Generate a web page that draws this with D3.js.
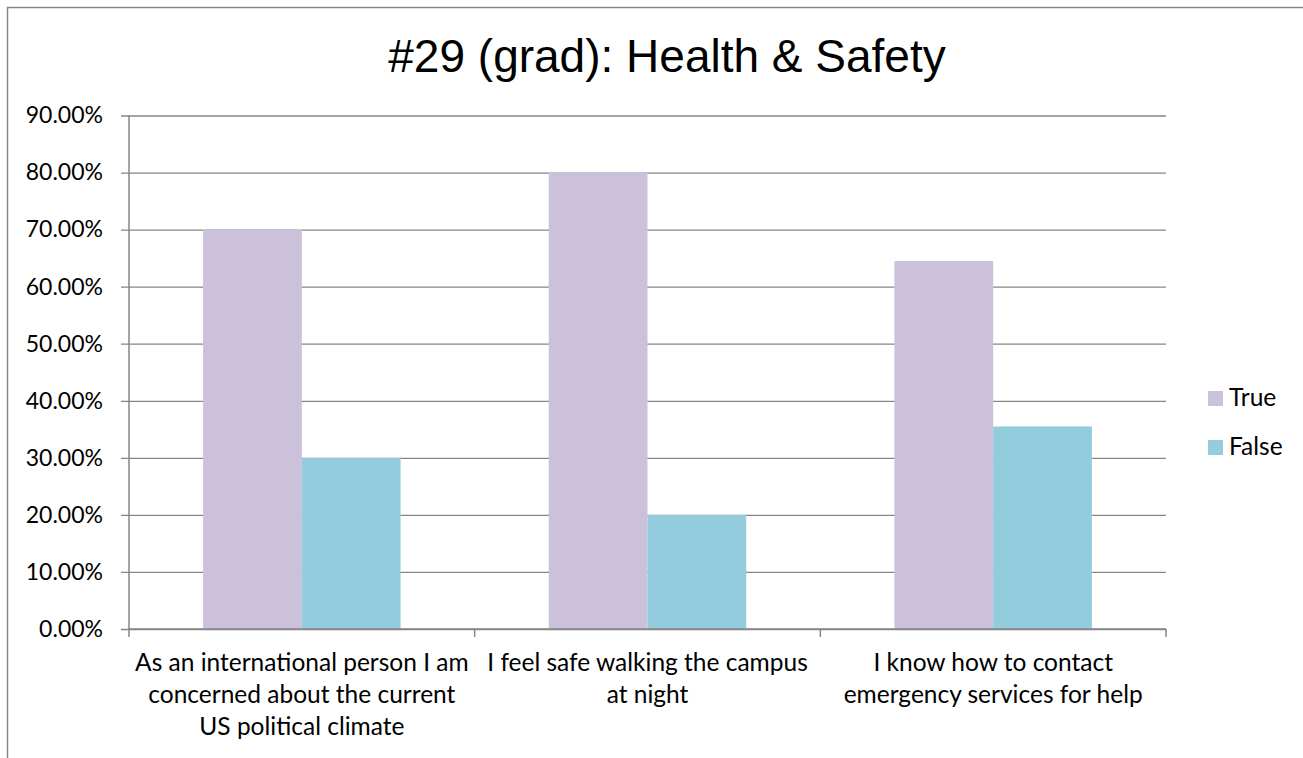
<!DOCTYPE html>
<html>
<head>
<meta charset="utf-8">
<script src="https://cdn.jsdelivr.net/npm/d3@7"></script>
<style>
  body { margin: 0; background: #fff; }
  svg { display: block; }
</style>
</head>
<body>
<svg id="chart"></svg>
<script>
// donnees
const categories = [
  ["As an international person I am", "concerned about the current", "US political climate"],
  ["I feel safe walking the campus", "at night"],
  ["I know how to contact", "emergency services for help"]
];
const series = ["True", "False"];
const trueValues = [0.70, 0.80, 0.645];
const falseValues = [0.30, 0.20, 0.355];
const yTicks = [0, 0.1, 0.2, 0.3, 0.4, 0.5, 0.6, 0.7, 0.8, 0.9];
const colors = ["#ccc1da", "#93cddd"];

const svgWidth = 1303, svgHeight = 758;
const margin = { top: 115.5, right: 137, bottom: 129, left: 129 };
const width = svgWidth - margin.left - margin.right;
const height = svgHeight - margin.top - margin.bottom;
const font = "Lato, Open Sans, sans-serif";

const svg = d3.select("#chart")
  .attr("width", svgWidth)
  .attr("height", svgHeight);

// cadre du graphique
svg.append("rect")
  .attr("x", 7.5).attr("y", 7.5)
  .attr("width", 1310).attr("height", 800)
  .attr("fill", "none")
  .attr("stroke", "#868686")
  .attr("stroke-width", 1.5);

svg.append("text")
  .attr("x", 667).attr("y", 72)
  .attr("text-anchor", "middle")
  .attr("font-family", "Liberation Sans, Arial, sans-serif")
  .attr("font-size", 46)
  .attr("fill", "#000")
  .text("#29 (grad): Health & Safety");

const g = svg.append("g")
  .attr("transform", "translate(" + margin.left + "," + margin.top + ")");

const idx = categories.map((c, i) => i);
const x0 = d3.scaleBand().domain(idx).range([0, width]).padding(0);
const x1 = d3.scaleBand().domain(series).range([0, x0.bandwidth()])
  .paddingInner(0).paddingOuter(0.75);
const y = d3.scaleLinear().domain([0, 0.9]).range([height, 0]);

// axe Y avec lignes de grille
const yAxis = g.append("g")
  .call(d3.axisLeft(y)
    .tickValues(yTicks)
    .tickSize(-width)
    .tickPadding(26)
    .tickFormat(d3.format(".2%")));
yAxis.select(".domain").remove();
yAxis.selectAll(".tick line")
  .attr("stroke", "#868686")
  .attr("stroke-width", 1.3)
  .attr("x1", -8);
yAxis.selectAll(".tick text")
  .attr("font-family", font)
  .attr("font-size", 23)
  .attr("fill", "#000");

// barres
const data = idx.map(i => ({ i: i, values: [trueValues[i], falseValues[i]] }));
const groups = g.selectAll(".grp")
  .data(data)
  .enter().append("g")
  .attr("transform", d => "translate(" + x0(d.i) + ",0)");
groups.selectAll("rect")
  .data(d => d.values.map((v, k) => ({ key: series[k], value: v, k: k })))
  .enter().append("rect")
  .attr("x", d => x1(d.key))
  .attr("y", d => y(d.value))
  .attr("width", x1.bandwidth())
  .attr("height", d => height - y(d.value))
  .attr("fill", d => colors[d.k]);

// axe X
g.append("line")
  .attr("x1", 0).attr("x2", width)
  .attr("y1", height).attr("y2", height)
  .attr("stroke", "#868686").attr("stroke-width", 1.5);
g.append("line")
  .attr("x1", 0).attr("x2", 0)
  .attr("y1", 0).attr("y2", height)
  .attr("stroke", "#868686").attr("stroke-width", 1.5);
const xTicks = idx.map(i => x0(i)).concat([width]);
g.selectAll(".xtick")
  .data(xTicks)
  .enter().append("line")
  .attr("x1", d => d).attr("x2", d => d)
  .attr("y1", height).attr("y2", height + 8)
  .attr("stroke", "#868686").attr("stroke-width", 1.5);

const labels = g.selectAll(".xlabel")
  .data(categories)
  .enter().append("text")
  .attr("text-anchor", "middle")
  .attr("font-family", font)
  .attr("font-size", 24.5)
  .attr("fill", "#000")
  .attr("transform", (d, i) => "translate(" + (x0(i) + x0.bandwidth() / 2) + "," + (height + 42) + ")");
labels.selectAll("tspan")
  .data(d => d)
  .enter().append("tspan")
  .attr("x", 0)
  .attr("y", (d, k) => k * 32)
  .text(d => d);

// legende
const legend = svg.append("g")
  .attr("transform", "translate(1208,391)");
const items = legend.selectAll("g")
  .data(series)
  .enter().append("g")
  .attr("transform", (d, i) => "translate(0," + i * 49 + ")");
items.append("rect")
  .attr("width", 15).attr("height", 15)
  .attr("fill", (d, i) => colors[i]);
items.append("text")
  .attr("x", 21).attr("y", 15)
  .attr("font-family", font)
  .attr("font-size", 24.5)
  .attr("fill", "#000")
  .text(d => d);
</script>
</body>
</html>
